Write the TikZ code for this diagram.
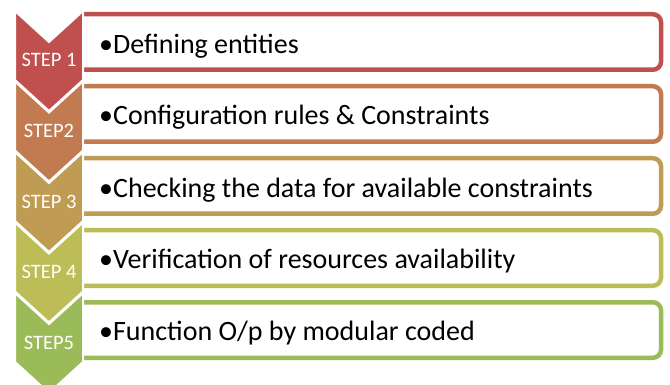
\documentclass[tikz,border=0pt]{standalone}
\usepackage{fontspec}
\setmainfont{Carlito}
\definecolor{stepA}{HTML}{C0504D}
\definecolor{stepB}{HTML}{C27A50}
\definecolor{stepC}{HTML}{BF9B53}
\definecolor{stepD}{HTML}{BDBD58}
\definecolor{stepE}{HTML}{9BBB59}
\begin{document}
\begin{tikzpicture}[x=1pt,y=-1pt,
  chev/.style={fill=#1, draw=white, line width=2pt, line join=miter},
  listbox/.style={draw=#1, line width=4.5pt, fill=white},
  steplabel/.style={text=white, font=\fontsize{20.5}{24}\selectfont, anchor=base, inner sep=0pt},
  itemtext/.style={text=black, font=\fontsize{28}{33}\selectfont, anchor=base west, inner sep=0pt}]
\useasboundingbox (0,0) rectangle (670,385);
\clip (0,0) rectangle (670,385);

% list boxes: open on the left, where they meet the chevrons
\foreach \k/\col in {1/stepA,2/stepB,3/stepC,4/stepD,5/stepE}{
  \pgfmathsetmacro{\top}{14.25+72*(\k-1)}
  \draw[listbox=\col] (82,\top) [rounded corners=8pt] -- (661,\top)
    -- (661,\top+55.5) [sharp corners] -- (82,\top+55.5);
}

% downward chevrons
\foreach \k/\col in {1/stepA,2/stepB,3/stepC,4/stepD,5/stepE}{
  \pgfmathsetmacro{\T}{11+70.5*(\k-1)}
  \draw[chev=\col] (15,\T) -- (49,\T+31) -- (83,\T) -- (83,\T+69)
    -- (49,\T+100) -- (15,\T+69) -- cycle;
}

% step labels
\node[steplabel] (s1) at (49,67) {STEP 1};
\node[steplabel] (s2) at (49,137.5) {STEP2};
\node[steplabel] (s3) at (49,208) {STEP 3};
\node[steplabel] (s4) at (49,278.5) {STEP 4};
\node[steplabel] (s5) at (49,349) {STEP5};

% item texts
\node[itemtext] (t1) at (99,53.5) {•Defining entities};
\node[itemtext] (t2) at (99,125) {•Configuration rules \& Constraints};
\node[itemtext] (t3) at (99,197) {•Checking the data for available constraints};
\node[itemtext] (t4) at (99,269) {•Verification of resources availability};
\node[itemtext] (t5) at (99,340) {•Function O/p by modular coded};
\end{tikzpicture}
\end{document}
